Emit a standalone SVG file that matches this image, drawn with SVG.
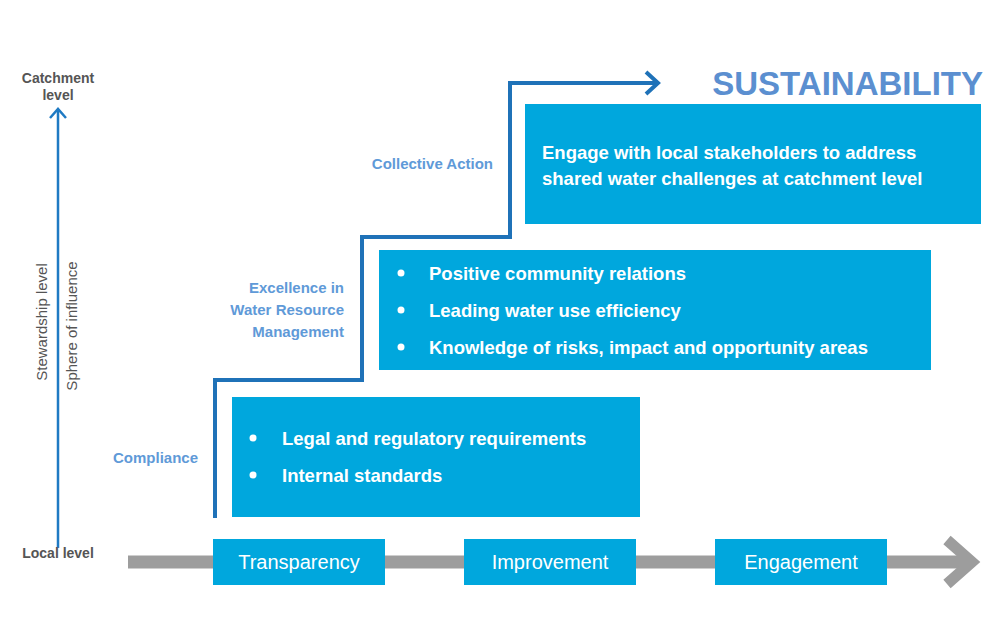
<svg xmlns="http://www.w3.org/2000/svg" width="1000" height="624" viewBox="0 0 1000 624">
<style>
.box{fill:#00a7dd}
.wt{font-family:"Liberation Sans",Arial,sans-serif;font-weight:bold;font-size:18.5px;fill:#fff}
.bt{font-family:"Liberation Sans",Arial,sans-serif;font-size:20px;fill:#fff}
.lb{font-family:"Liberation Sans",Arial,sans-serif;font-weight:bold;font-size:15px;fill:#5f9ad8}
.gr{font-family:"Liberation Sans",Arial,sans-serif;font-size:15px;fill:#555}
.gb{font-family:"Liberation Sans",Arial,sans-serif;font-weight:bold;font-size:14px;fill:#555}
</style>
<rect width="1000" height="624" fill="#fff"/>
<g id="connectors">
<line x1="128" y1="562" x2="965" y2="562" stroke="#9d9d9d" stroke-width="13"/>
<polyline points="947,540 972,562 947,584" fill="none" stroke="#9d9d9d" stroke-width="11"/>
<line x1="58" y1="548" x2="58" y2="110" stroke="#1f7ac3" stroke-width="2.5"/>
<polyline points="50,118 58,109 66,118" fill="none" stroke="#1f7ac3" stroke-width="2.5"/>
<polyline points="215,518 215,380 362,380 362,237 510,237 510,83 658,83" fill="none" stroke="#1f72b8" stroke-width="4"/>
<polyline points="646,72 658,83 646,94" fill="none" stroke="#1f72b8" stroke-width="4"/>
</g>
<g id="axis-labels">
<text class="gb" x="58" y="83" text-anchor="middle">Catchment</text>
<text class="gb" x="58" y="100" text-anchor="middle">level</text>
<text class="gb" x="58" y="558" text-anchor="middle">Local level</text>
<text class="gr" transform="translate(47,322) rotate(-90)" text-anchor="middle">Stewardship level</text>
<text class="gr" transform="translate(77,326) rotate(-90)" text-anchor="middle">Sphere of influence</text>
</g>
<g id="title"><text x="983" y="95" text-anchor="end" font-family="Liberation Sans,Arial,sans-serif" font-weight="bold" font-size="33" fill="#5b8fd0">SUSTAINABILITY</text></g>
<g id="label-collective"><text class="lb" x="493" y="169" text-anchor="end">Collective Action</text></g>
<g id="label-excellence">
<text class="lb" x="344" y="293" text-anchor="end">Excellence in</text>
<text class="lb" x="344" y="315" text-anchor="end">Water Resource</text>
<text class="lb" x="344" y="337" text-anchor="end">Management</text>
</g>
<g id="label-compliance"><text class="lb" x="198" y="463" text-anchor="end">Compliance</text></g>
<g id="box-collective">
<rect class="box" x="525" y="104" width="456" height="120"/>
<text class="wt" x="542" y="159">Engage with local stakeholders to address</text>
<text class="wt" x="542" y="185">shared water challenges at catchment level</text>
</g>
<g id="box-excellence">
<rect class="box" x="379" y="250" width="552" height="120"/>
<circle cx="401" cy="273" r="3.5" fill="#fff"/><text class="wt" x="429" y="280">Positive community relations</text>
<circle cx="401" cy="310" r="3.5" fill="#fff"/><text class="wt" x="429" y="317">Leading water use efficiency</text>
<circle cx="401" cy="347" r="3.5" fill="#fff"/><text class="wt" x="429" y="354">Knowledge of risks, impact and opportunity areas</text>
</g>
<g id="box-compliance">
<rect class="box" x="232" y="397" width="408" height="120"/>
<circle cx="253" cy="438" r="3.5" fill="#fff"/><text class="wt" x="282" y="445">Legal and regulatory requirements</text>
<circle cx="253" cy="475" r="3.5" fill="#fff"/><text class="wt" x="282" y="482">Internal standards</text>
</g>
<g id="box-transparency"><rect class="box" x="213" y="539" width="172" height="46"/><text class="bt" x="299" y="569" text-anchor="middle">Transparency</text></g>
<g id="box-improvement"><rect class="box" x="464" y="539" width="172" height="46"/><text class="bt" x="550" y="569" text-anchor="middle">Improvement</text></g>
<g id="box-engagement"><rect class="box" x="715" y="539" width="172" height="46"/><text class="bt" x="801" y="569" text-anchor="middle">Engagement</text></g>
</svg>
